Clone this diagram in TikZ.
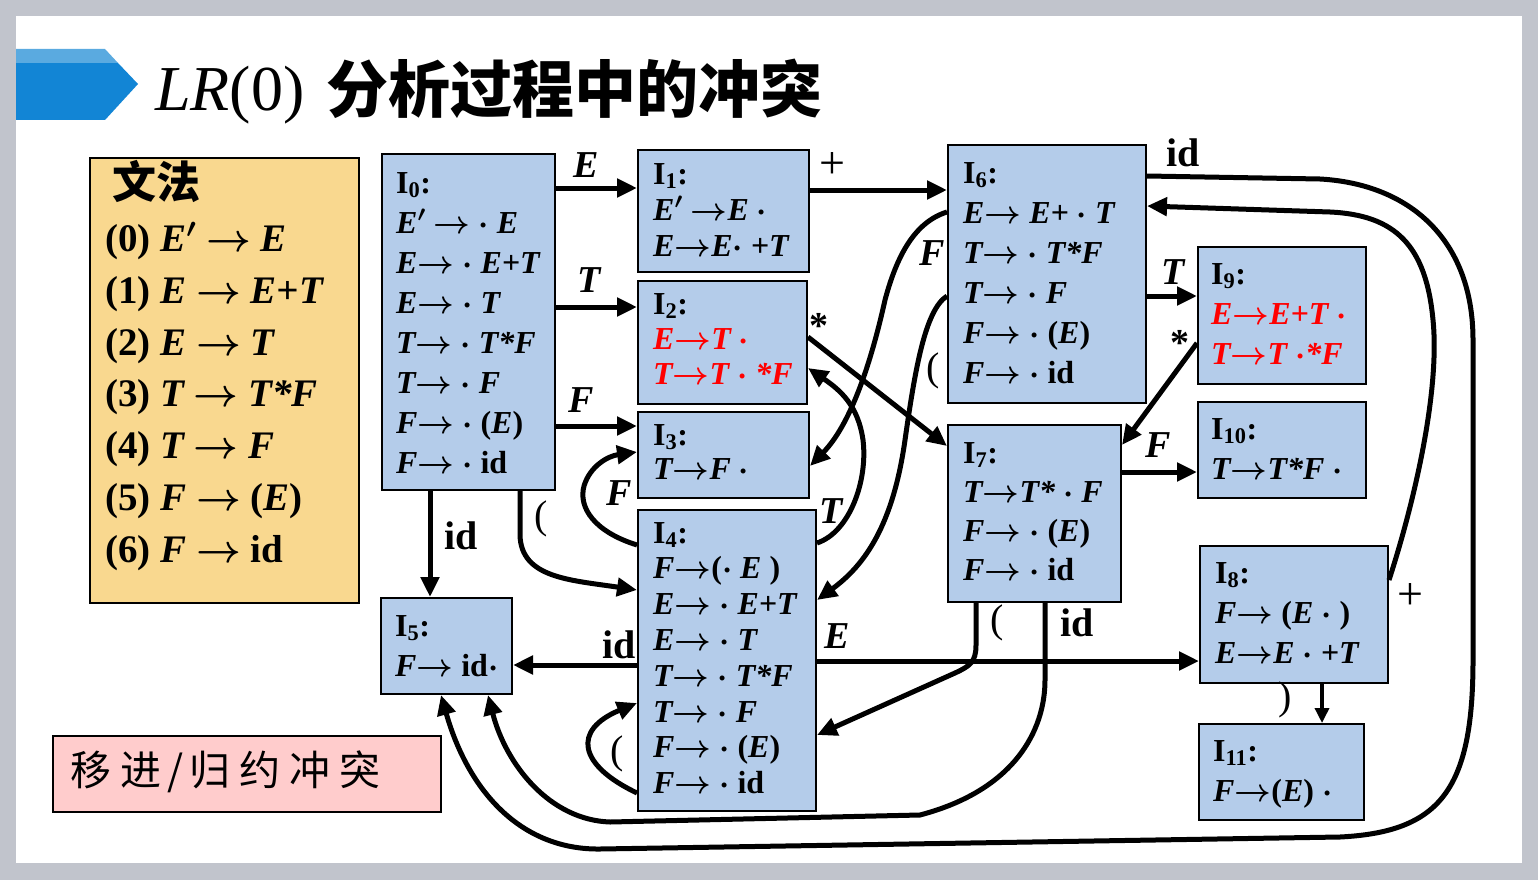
\RequirePackage{fix-cm}
\documentclass[tikz,border=0pt]{standalone}
\usepackage{fontspec}
\setmainfont{Liberation Serif}
\newfontfamily\cjk{Noto Sans CJK SC}
\usetikzlibrary{arrows.meta,positioning}
\definecolor{slidegray}{RGB}{193,196,204}
\definecolor{stateblue}{RGB}{180,204,234}
\definecolor{gramfill}{RGB}{249,216,143}
\definecolor{warnfill}{RGB}{255,204,204}
\definecolor{bannerlight}{RGB}{90,170,224}
\definecolor{bannerdark}{RGB}{18,133,213}
\newcommand{\rto}{$\rightarrow$}
\newcommand{\cdt}{$\cdot$}
\tikzset{
  state/.style={draw,line width=2pt,fill=stateblue,anchor=north west,inner sep=0pt},
  items/.style={anchor=north west,inner sep=0pt,align=left,
    font=\fontsize{32}{#1}\selectfont\bfseries\itshape\boldmath},
  trans/.style={line width=5pt,-{Triangle[length=20pt,width=18pt]}},
  transthin/.style={line width=3.5pt,-{Triangle[length=15pt,width=14pt]}},
  symlbl/.style={font=\fontsize{38}{38}\selectfont\bfseries\itshape,inner sep=0pt},
  idlbl/.style={font=\fontsize{40}{40}\selectfont\bfseries,inner sep=0pt},
  parenlbl/.style={font=\fontsize{40}{40}\selectfont,inner sep=0pt},
  pluslbl/.style={font=\fontsize{46}{46}\selectfont,inner sep=0pt},
  starlbl/.style={font=\fontsize{38}{38}\selectfont\bfseries,inner sep=0pt}
}
\begin{document}
\begin{tikzpicture}[x=1pt,y=-1pt]
\useasboundingbox (0,0) rectangle (1538,880);
% slide
\fill[slidegray] (0,0) rectangle (1538,880);
\fill[white] (16,16) rectangle (1522,863);
\fill[bannerdark] (16,63) -- (118,63) -- (138,84) -- (105,120) -- (16,120) -- cycle;
\fill[bannerlight] (16,49) -- (105,49) -- (118,63) -- (16,63) -- cycle;
\node[anchor=base west,inner sep=0pt,font=\fontsize{64}{64}\selectfont] (ttl) at (155,111) {\textit{LR}(0)};
\node[anchor=base west,inner sep=0pt,font=\fontsize{62}{62}\selectfont\cjk\bfseries] (ttlcn) at (326,113) {分析过程中的冲突};

% grammar
\node[draw,line width=1.5pt,fill=gramfill,anchor=north west,minimum width=269pt,minimum height=445pt] (gram) at (89,157) {};
\node[anchor=west,inner sep=0pt,font=\fontsize{44}{44}\selectfont\cjk\bfseries] (gramttl) at (112,181) {文法};
\node[anchor=north west,inner sep=0pt,align=left,font=\fontsize{39}{51.8}\selectfont\bfseries\itshape\boldmath] (rules) at (105,222)
  {\textup{(0)} E$'$ \rto\ E\\ \textup{(1)} E \rto\ E+T\\ \textup{(2)} E \rto\ T\\ \textup{(3)} T \rto\ T*F\\
   \textup{(4)} T \rto\ F\\ \textup{(5)} F \rto\ \textup{(}E\textup{)}\\ \textup{(6)} F \rto\ \textup{id}};

% conflict note
\node[draw,line width=1.5pt,fill=warnfill,anchor=north west,minimum width=388pt,minimum height=76pt] (clash) at (52,735) {};
\node[anchor=west,inner sep=0pt,font=\fontsize{41}{41}\selectfont\cjk] (clashtxt) at (70,772)
  {移\hspace{9pt}进\hspace{6pt}/\hspace{6pt}归\hspace{9pt}约\hspace{9pt}冲\hspace{9pt}突};

% states
\node[state,minimum width=173pt,minimum height=336pt] (I0) at (381,153) {};
\node[state,minimum width=171pt,minimum height=122pt] (I1) at (637,149) {};
\node[state,minimum width=169pt,minimum height=123pt] (I2) at (637,280) {};
\node[state,minimum width=171pt,minimum height=86pt] (I3) at (637,411) {};
\node[state,minimum width=178pt,minimum height=301pt] (I4) at (637,509) {};
\node[state,minimum width=131pt,minimum height=96pt] (I5) at (380,597) {};
\node[state,minimum width=198pt,minimum height=258pt] (I6) at (947,144) {};
\node[state,minimum width=173pt,minimum height=177pt] (I7) at (947,424) {};
\node[state,minimum width=188pt,minimum height=137pt] (I8) at (1199,545) {};
\node[state,minimum width=168pt,minimum height=137pt] (I9) at (1197,246) {};
\node[state,minimum width=168pt,minimum height=96pt] (I10) at (1197,401) {};
\node[state,minimum width=165pt,minimum height=96pt] (I11) at (1198,723) {};

\node[items=40] (I0t) at (396,172) {\textup{I\textsubscript{0}:}\\ E$'$ \rto\ \cdt\ E\\ E\rto\ \cdt\ E+T\\ E\rto\ \cdt\ T\\
  T\rto\ \cdt\ T*F\\ T\rto\ \cdt\ F\\ F\rto\ \cdt\ \textup{(}E\textup{)}\\ F\rto\ \cdt\ \textup{id}};
\node[items=36] (I1t) at (653,163) {\textup{I\textsubscript{1}:}\\ E$'$ \rto E \cdt\\ E\rto E\cdt\ +T};
\node[items=35] (I2t) at (653,293) {\textup{I\textsubscript{2}:}\\ \textcolor{red}{E\rto T \cdt}\\ \textcolor{red}{T\rto T \cdt\ *F}};
\node[items=34] (I3t) at (653,424) {\textup{I\textsubscript{3}:}\\ T\rto F \cdt};
\node[items=35.8] (I4t) at (653,522) {\textup{I\textsubscript{4}:}\\ F\rto\textup{(}\cdt\ E \textup{)}\\ E\rto\ \cdt\ E+T\\ E\rto\ \cdt\ T\\
  T\rto\ \cdt\ T*F\\ T\rto\ \cdt\ F\\ F\rto\ \cdt\ \textup{(}E\textup{)}\\ F\rto\ \cdt\ \textup{id}};
\node[items=40] (I5t) at (395,615) {\textup{I\textsubscript{5}:}\\ F\rto\ \textup{id}\cdt};
\node[items=40] (I6t) at (963,162) {\textup{I\textsubscript{6}:}\\ E\rto\ E+\ \cdt\ T\\ T\rto\ \cdt\ T*F\\ T\rto\ \cdt\ F\\
  F\rto\ \cdt\ \textup{(}E\textup{)}\\ F\rto\ \cdt\ \textup{id}};
\node[items=39] (I7t) at (963,442) {\textup{I\textsubscript{7}:}\\ T\rto T*\ \cdt\ F\\ F\rto\ \cdt\ \textup{(}E\textup{)}\\ F\rto\ \cdt\ \textup{id}};
\node[items=40] (I8t) at (1215,562) {\textup{I\textsubscript{8}:}\\ F\rto\ \textup{(}E\ \cdt\ \textup{)}\\ E\rto E\ \cdt\ +T};
\node[items=40] (I9t) at (1211,263) {\textup{I\textsubscript{9}:}\\ \textcolor{red}{E\rto E+T\ \cdt}\\ \textcolor{red}{T\rto T\ \cdt*F}};
\node[items=40] (I10t) at (1211,418) {\textup{I\textsubscript{10}:}\\ T\rto T*F\ \cdt};
\node[items=40] (I11t) at (1213,740) {\textup{I\textsubscript{11}:}\\ F\rto\textup{(}E\textup{)}\ \cdt};

% transitions
\draw[trans] (I0.east |- 0,188) -- (I1.west |- 0,188);
\draw[trans] (I0.east |- 0,307) -- (I2.west |- 0,307);
\draw[trans] (I0.east |- 0,426) -- (I3.west |- 0,426);
\draw[trans] (I0.south -| 430,0) -- (I5.north -| 430,0);
\draw[trans] (I0.south -| 520,0) -- (520,535) .. controls (521,578) and (570,580) .. (I4.west |- 0,590);
\draw[trans] (I1.east |- 0,190) -- (I6.west |- 0,190);
\draw[trans] (I2.east |- 0,337) -- (I7.west |- 0,446);
\draw[trans] (I4.east |- 0,543) .. controls (850,532) and (868,480) .. (863,440) .. controls (858,405) and (840,390) .. (I2.east |- 0,368);
\draw[trans] (I6.west |- 0,212) .. controls (915,222) and (897,255) .. (885,300) .. controls (875,345) and (855,420) .. (I3.east |- 0,466);
\draw[trans] (I6.west |- 0,296) .. controls (925,310) and (915,370) .. (905,440) .. controls (893,525) and (865,565) .. (I4.east |- 0,600);
\draw[trans] (I7.south -| 976,0) -- (976,645) .. controls (976,662) and (970,666) .. (955,673) -- (I4.east |- 0,735);
\draw[trans] (I7.south -| 1045,0) -- (1045,680) .. controls (1045,730) and (1015,790) .. (920,815) -- (610,822)
  .. controls (550,820) and (506,765) .. (I5.south -| 488,0);
\draw[trans] (I6.east |- 0,176) -- (1320,179) .. controls (1410,184) and (1473,240) .. (1473,340) -- (1473,660)
  .. controls (1473,790) and (1440,832) .. (1340,837) -- (600,849) .. controls (520,850) and (468,790) .. (I5.south -| 441,0);
\draw[trans] (I8.east |- 0,580) .. controls (1415,500) and (1440,390) .. (1433,320) .. controls (1426,245) and (1395,215) .. (1330,212) -- (I6.east |- 0,206);
\draw[trans] (I4.east |- 0,661) -- (I8.west |- 0,661);
\draw[trans] (I4.west |- 0,793) .. controls (578,765) and (572,730) .. (I4.west |- 0,703);
\draw[trans] (I4.west |- 0,545) .. controls (595,532) and (578,508) .. (584,486) .. controls (590,466) and (608,456) .. (I3.west |- 0,452);
\draw[trans] (I4.west |- 0,665) -- (I5.east |- 0,665);
\draw[trans] (I6.east |- 0,296) -- (I9.west |- 0,296);
\draw[trans] (I9.west |- 0,343) -- (I7.east |- 0,445);
\draw[trans] (I7.east |- 0,472) -- (I10.west |- 0,472);
\draw[transthin] (I8.south -| 1322,0) -- (I11.north -| 1322,0);

% labels
\node[symlbl] (lE01) at (586,165) {E};
\node[symlbl] (lT02) at (589,280) {T};
\node[symlbl] (lF03) at (581,400) {F};
\node[idlbl] (lid05) at (461,536) {id};
\node[parenlbl] (lp04) at (541,519) {(};
\node[pluslbl] (lplus16) at (832,166) {+};
\node[starlbl] (lst27) at (819,326) {*};
\node[symlbl] (lT42) at (831,511) {T};
\node[symlbl] (lF63) at (932,253) {F};
\node[parenlbl] (lp64) at (933,371) {(};
\node[parenlbl] (lp74) at (997,623) {(};
\node[idlbl] (lid75) at (1077,623) {id};
\node[idlbl] (lid65) at (1183,153) {id};
\node[pluslbl] (lplus86) at (1410,596) {+};
\node[symlbl] (lE48) at (837,636) {E};
\node[parenlbl] (lp44) at (617,754) {(};
\node[symlbl] (lF43) at (619,493) {F};
\node[idlbl] (lid45) at (619,645) {id};
\node[symlbl] (lT69) at (1173,272) {T};
\node[starlbl] (lst97) at (1180,343) {*};
\node[symlbl] (lF710) at (1158,445) {F};
\node[parenlbl] (lp811) at (1285,700) {)};
\end{tikzpicture}
\end{document}
